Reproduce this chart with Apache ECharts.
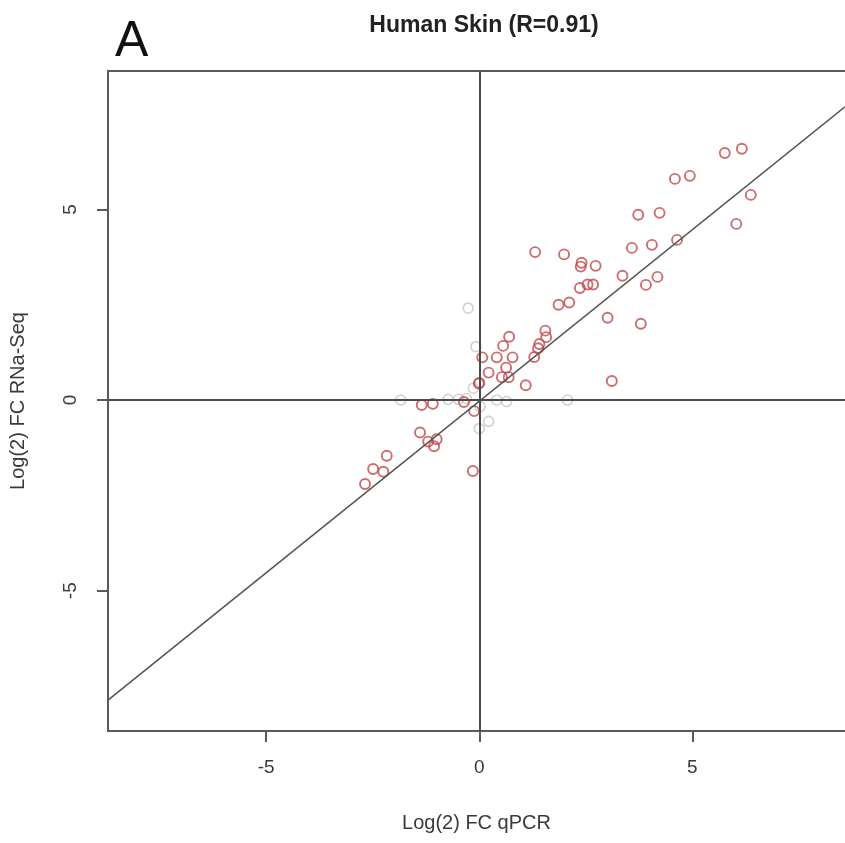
<!DOCTYPE html>
<html>
<head>
<meta charset="utf-8">
<script src="https://cdn.jsdelivr.net/npm/echarts@6/dist/echarts.min.js"></script>
<style>
html,body{margin:0;padding:0;background:#fff;}
#chart{width:845px;height:843px;}
</style>
</head>
<body>
<div id="chart"></div>
<script>
// Log2 FC qPCR (x) vs Log2 FC RNA-Seq (y), significant genes (red)
var qpcrSig = [5.76, 6.16, 4.59, 4.94, 6.37, 6.03, 3.73, 4.23, 4.64, 3.58, 4.05, 1.31, 1.99, 2.40, 2.38, 2.73, 3.36, 4.18, 3.91, 2.36, 2.54, 2.67, 1.86, 2.11, 3.79, 3.01, 3.11, 1.55, 1.57, 1.41, 1.38, 1.29, 0.70, 0.56, 0.41, 0.78, 0.07, 0.22, 0.63, 0.53, 0.69, 1.09, -0.01, 0.00, -0.36, -1.35, -1.09, -0.12, -1.39, -1.20, -1.00, -1.06, -2.17, -2.49, -2.25, -2.68, -0.15];
var rnaseqSig = [6.48, 6.59, 5.80, 5.88, 5.38, 4.62, 4.86, 4.91, 4.20, 3.99, 4.07, 3.88, 3.82, 3.60, 3.50, 3.52, 3.26, 3.23, 3.02, 2.94, 3.03, 3.03, 2.50, 2.56, 2.00, 2.16, 0.50, 1.82, 1.65, 1.47, 1.36, 1.13, 1.66, 1.42, 1.12, 1.12, 1.12, 0.72, 0.85, 0.60, 0.60, 0.39, 0.43, 0.45, -0.05, -0.13, -0.10, -0.29, -0.85, -1.09, -1.03, -1.21, -1.46, -1.81, -1.88, -2.20, -1.86];
// non-significant genes (grey)
var qpcrNs = [-0.26, -0.08, -0.14, -1.84, -0.73, -0.49, -0.30, 0.41, 0.64, 2.07, 0.22, 0.00, 0.02];
var rnaseqNs = [2.41, 1.40, 0.31, 0.00, 0.02, 0.02, 0.04, 0.00, -0.04, 0.00, -0.56, -0.75, -0.17];
// fitted line
var fitSlope = 0.9;
var fitIntercept = -0.03;
// axes
var xRange = [-8.71, 8.58];
var yRange = [-8.68, 8.63];
var tickValues = [-5, 0, 5];

function pairs(xs, ys){ return xs.map(function(x,i){ return [x, ys[i]]; }); }
var fitData = [[xRange[0], fitSlope*xRange[0]+fitIntercept],[xRange[1], fitSlope*xRange[1]+fitIntercept]];

var txt = '#3a3a3a';
var axisCol = '#5a5a5a';
var font = "'Liberation Sans', Arial, sans-serif";

var chart = echarts.init(document.getElementById('chart'), null, {renderer:'canvas'});
chart.setOption({
  animation:false,
  backgroundColor:'#fff',
  title:[
    {text:'Human Skin (R=0.91)', left:479, top:9, textAlign:'center',
     textStyle:{fontFamily:"'Liberation Sans Narrow','Liberation Sans',Arial,sans-serif", fontWeight:'bold', fontSize:23, color:'#222'}},
    {text:'A', left:110, top:12, textStyle:{fontFamily:font, fontWeight:'normal', fontSize:50, color:'#111'}}
  ],
  grid:{left:108, right:0, top:71, bottom:112, containLabel:false},
  xAxis:[{
    type:'value', min:xRange[0], max:xRange[1],
    name:'Log(2) FC qPCR', nameLocation:'middle', nameGap:82,
    nameTextStyle:{fontFamily:font, fontSize:20, color:txt},
    axisLine:{show:true, onZero:false, lineStyle:{color:axisCol, width:2}},
    axisTick:{show:true, length:11, customValues:tickValues, lineStyle:{color:axisCol, width:2}},
    axisLabel:{customValues:tickValues, margin:27, fontFamily:font, fontSize:19, color:txt},
    splitLine:{show:false}
  },{
    type:'value', position:'top', min:xRange[0], max:xRange[1],
    axisLine:{show:true, onZero:false, lineStyle:{color:axisCol, width:2}},
    axisTick:{show:false}, axisLabel:{show:false}, splitLine:{show:false}
  }],
  yAxis:{
    type:'value', min:yRange[0], max:yRange[1],
    name:'Log(2) FC RNa-Seq', nameLocation:'middle', nameGap:80,
    nameTextStyle:{fontFamily:font, fontSize:20, color:txt},
    axisLine:{show:true, onZero:false, lineStyle:{color:axisCol, width:2}},
    axisTick:{show:true, length:11, customValues:tickValues, lineStyle:{color:axisCol, width:2}},
    axisLabel:{customValues:tickValues, rotate:90, margin:28, fontFamily:font, fontSize:19, color:txt},
    splitLine:{show:false}
  },
  series:[
    {type:'scatter', name:'ns', data:pairs(qpcrNs, rnaseqNs), symbol:'circle', symbolSize:10,
     itemStyle:{color:'rgba(255,255,255,0)', borderColor:'#c6c6c6', borderWidth:1.6}},
    {type:'scatter', name:'sig', data:pairs(qpcrSig, rnaseqSig), symbol:'circle', symbolSize:10,
     itemStyle:{color:'rgba(255,255,255,0)', borderColor:'#c0484a', borderWidth:1.9}},
    {type:'line', name:'fit', data:fitData, symbol:'none', silent:true,
     lineStyle:{color:'#555', width:1.6},
     markLine:{silent:true, symbol:'none', label:{show:false},
       lineStyle:{color:'#4a4a4a', width:2, type:'solid'},
       data:[{xAxis:0},{yAxis:0}]}}
  ]
});
</script>
</body>
</html>
